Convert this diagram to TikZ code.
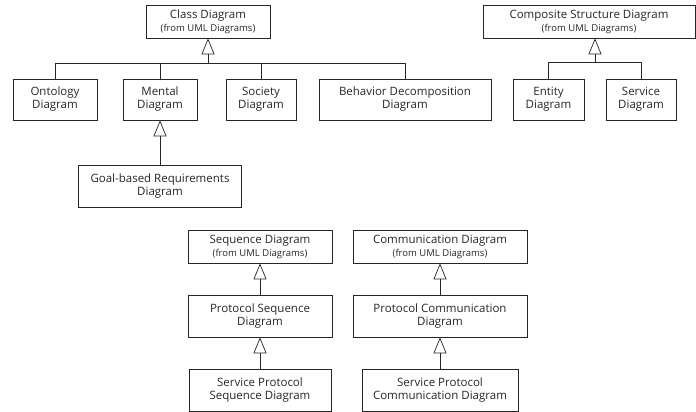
\documentclass[tikz,border=0pt]{standalone}
\usepackage{fontspec}
\setmainfont{Open Sans}
\usepackage{tikz}
\usetikzlibrary{arrows.meta,positioning}
\newcommand{\fromuml}{{\fontsize{9.5}{12}\selectfont (from UML Diagrams)}}

\begin{document}
\begin{tikzpicture}[
            x=1pt, y=-1pt,
            block/.style={rectangle, draw=black!85, line width=0.7pt, align=center, inner sep=0pt, text=black!85, font=\fontsize{11.5}{13}\selectfont},
            gen/.style={draw=black!85, line width=0.7pt, -{Triangle[open, length=16pt, width=13pt]}},
            link/.style={draw=black!85, line width=0.7pt}
        ]
        \useasboundingbox (0,0) rectangle (696,412);

        \node[block, minimum width=124pt, minimum height=33pt] (classdiag) at (208,21.5) {Class Diagram\\\fromuml};
        \node[block, minimum width=84pt, minimum height=41pt] (ontology) at (55,99.5) {Ontology\\Diagram};
        \node[block, minimum width=74pt, minimum height=41pt] (mental) at (160,99.5) {Mental\\Diagram};
        \node[block, minimum width=70pt, minimum height=41pt] (society) at (261,99.5) {Society\\Diagram};
        \node[block, minimum width=172pt, minimum height=41pt] (behavior) at (405,99.5) {Behavior Decomposition\\Diagram};
        \node[block, minimum width=163pt, minimum height=42pt] (goalreq) at (160,186) {Goal-based Requirements\\Diagram};

        \node[block, minimum width=212pt, minimum height=33pt] (composite) at (589,21.5) {Composite Structure Diagram\\\fromuml};
        \node[block, minimum width=71pt, minimum height=41pt] (entity) at (548.5,99.5) {Entity\\Diagram};
        \node[block, minimum width=70pt, minimum height=41pt] (service) at (641,99.5) {Service\\Diagram};

        \node[block, minimum width=144pt, minimum height=33pt] (sequence) at (260,246.5) {Sequence Diagram\\\fromuml};
        \node[block, minimum width=144pt, minimum height=42pt] (protoseq) at (260,316) {Protocol Sequence\\Diagram};
        \node[block, minimum width=142pt, minimum height=42pt] (servseq) at (260,390) {Service Protocol\\Sequence Diagram};

        \node[block, minimum width=174pt, minimum height=33pt] (communication) at (440,246.5) {Communication Diagram\\\fromuml};
        \node[block, minimum width=174pt, minimum height=42pt] (protocomm) at (440,316) {Protocol Communication\\Diagram};
        \node[block, minimum width=156pt, minimum height=42pt] (servcomm) at (440,390) {Service Protocol\\Communication Diagram};

        \coordinate (classbus) at (208,63);
        \coordinate (compbus) at (595,62);

        \draw[gen] (classbus) -- (classdiag.south);
        \draw[link] (ontology.north) |- (classbus);
        \draw[link] (mental.north) |- (classbus);
        \draw[link] (society.north) |- (classbus);
        \draw[link] (behavior.north) |- (classbus);
        \draw[gen] (goalreq) -- (mental);

        \draw[gen] (compbus) -- (compbus |- composite.south);
        \draw[link] (entity.north) |- (compbus);
        \draw[link] (service.north) |- (compbus);

        \draw[gen] (protoseq) -- (sequence);
        \draw[gen] (servseq) -- (protoseq);
        \draw[gen] (protocomm) -- (communication);
        \draw[gen] (servcomm) -- (protocomm);

    \end{tikzpicture}
\end{document}
